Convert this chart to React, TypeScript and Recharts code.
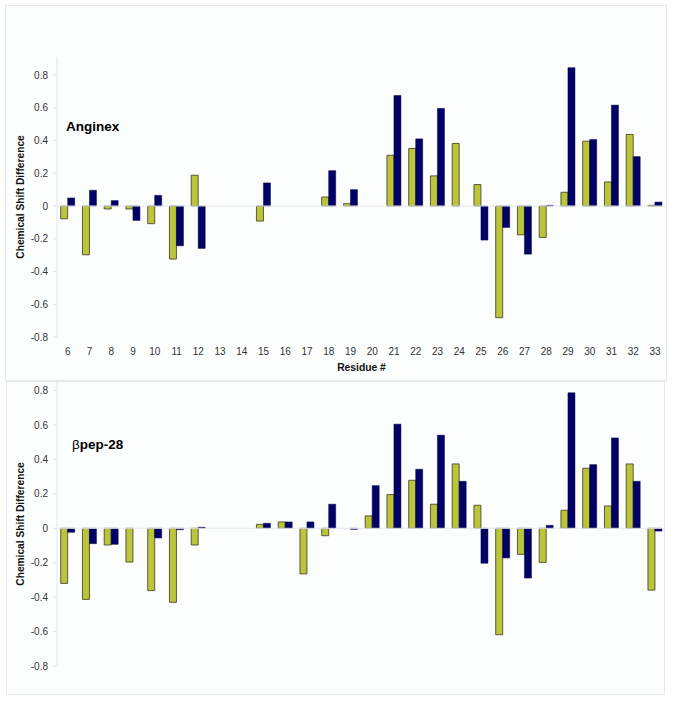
import React from 'react';
import { BarChart, Bar, XAxis, YAxis, ReferenceLine, Label } from 'recharts';

const residues = ['6','7','8','9','10','11','12','13','14','15','16','17','18','19','20','21','22','23','24','25','26','27','28','29','30','31','32','33'];

const anginexGreen = [-0.078,-0.298,-0.018,-0.018,-0.108,-0.324,0.188,null,null,-0.092,null,null,0.055,0.014,null,0.31,0.351,0.184,0.382,0.131,-0.682,-0.176,-0.192,0.084,0.396,0.147,0.437,0.004];
const anginexBlue = [0.049,0.096,0.033,-0.088,0.065,-0.243,-0.259,null,null,0.141,null,null,0.216,0.1,null,0.675,0.41,0.596,null,-0.208,-0.131,-0.294,0.004,0.845,0.406,0.616,0.302,0.024];

const bpepGreen = [-0.32,-0.413,-0.097,-0.196,-0.362,-0.43,-0.097,null,null,0.023,0.037,-0.265,-0.043,null,0.072,0.196,0.279,0.14,0.374,0.134,-0.618,-0.151,-0.198,0.105,0.349,0.13,0.374,-0.359];
const bpepBlue = [-0.023,-0.089,-0.093,null,-0.056,-0.008,0.006,null,null,0.029,0.037,0.037,0.14,-0.006,0.248,0.605,0.343,0.541,0.273,-0.203,-0.172,-0.289,0.017,0.787,0.37,0.525,0.273,-0.016];

const yTicks = [-0.8, -0.6, -0.4, -0.2, 0, 0.2, 0.4, 0.6, 0.8];

const topData = residues.map((r, i) => ({ residue: r, a: anginexGreen[i], b: anginexBlue[i] }));
const bottomData = residues.map((r, i) => ({ residue: r, a: bpepGreen[i], b: bpepBlue[i] }));

const GREEN = '#bcc43c';
const NAVY = '#000066';
const FONT = 'Liberation Sans, Arial, sans-serif';
const tickStyle = { fontSize: 10, fill: '#333', fontFamily: FONT };
const fmt = (v: number) => String(Number(v.toFixed(1)));

function Panel({ data, domain, height, margin, showX }: any) {
  return (
    <BarChart width={673} height={height} data={data} margin={margin} barGap={0} barCategoryGap="17%">
      <XAxis
        dataKey="residue"
        hide={!showX}
        axisLine={false}
        tickLine={false}
        tickSize={6}
        tickMargin={5}
        interval={0}
        tick={tickStyle}
        height={30}
      >
        {showX ? (
          <Label value="Residue #" position="bottom" offset={-3}
            style={{ fontSize: 10.3, fontWeight: 'bold', fill: '#111', fontFamily: FONT }} />
        ) : null}
      </XAxis>
      <YAxis
        type="number"
        domain={domain}
        ticks={yTicks}
        allowDataOverflow
        width={57}
        axisLine={{ stroke: '#e4e6ea' }}
        tickLine={{ stroke: '#e4e6ea' }}
        tickSize={4}
        tickMargin={5}
        tick={tickStyle}
        tickFormatter={fmt}
      >
        <Label value="Chemical Shift Difference" angle={-90} position="insideLeft" offset={20}
          style={{ textAnchor: 'middle', fontSize: 10.2, fontWeight: 'bold', fill: '#111', fontFamily: FONT }} />
      </YAxis>
      <ReferenceLine y={0} stroke="#e6e8ec" strokeWidth={1} />
      <Bar dataKey="a" fill={GREEN} stroke="#3a3a20" strokeWidth={0.8} isAnimationActive={false} />
      <Bar dataKey="b" fill={NAVY} stroke="#000044" strokeWidth={0.5} isAnimationActive={false} />
    </BarChart>
  );
}

export default function App() {
  return (
    <div style={{ position: 'absolute', left: 0, top: 0, width: 673, height: 701, background: '#fff', overflow: 'hidden' }}>
      <div style={{ position: 'absolute', left: 5, top: 5, width: 660, height: 374, border: '1px solid #e6e8ea', background: '#fcfdfd' }} />
      <div style={{ position: 'absolute', left: 6, top: 381, width: 657, height: 312, border: '1px solid #e6e8ea', background: '#fcfdfd' }} />
      <div style={{ position: 'absolute', left: 0, top: 0 }}>
        <Panel data={topData} domain={[-0.8, 0.91]} height={380} margin={{ top: 57, right: 7, bottom: 13, left: 0 }} showX />
      </div>
      <div style={{ position: 'absolute', left: 0, top: 381 }}>
        <Panel data={bottomData} domain={[-0.8, 0.85]} height={320} margin={{ top: 1, right: 7, bottom: 35, left: 0 }} showX={false} />
      </div>
      <div style={{ position: 'absolute', left: 66, top: 120, fontFamily: FONT, fontWeight: 'bold', fontSize: 13.5, lineHeight: 1, color: '#000', whiteSpace: 'nowrap' }}>
        Anginex
      </div>
      <div style={{ position: 'absolute', left: 72, top: 438, fontFamily: FONT, fontSize: 13.5, lineHeight: 1, color: '#000', whiteSpace: 'nowrap' }}>
        <span style={{ fontWeight: 'normal' }}>β</span><span style={{ fontWeight: 'bold' }}>pep-28</span>
      </div>
    </div>
  );
}
